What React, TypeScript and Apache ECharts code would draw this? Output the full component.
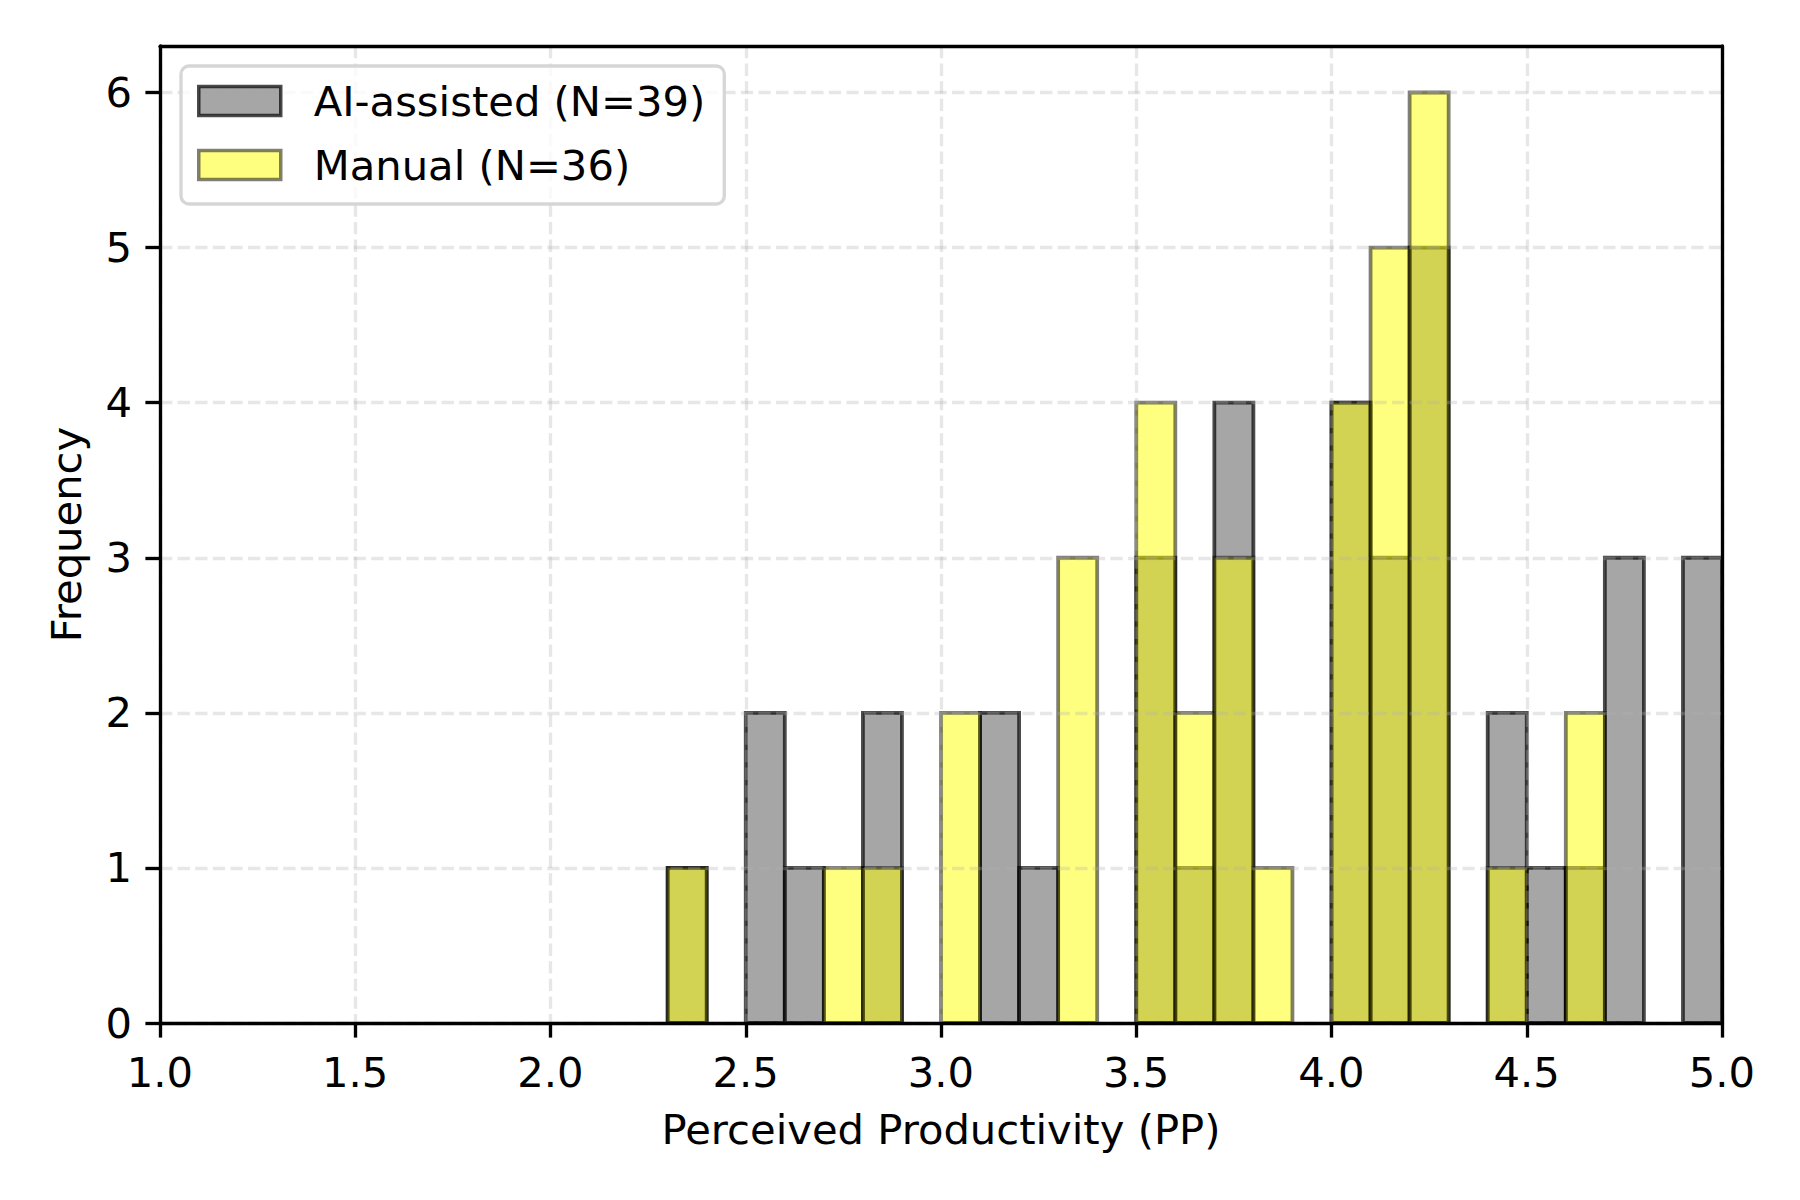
import React, { useEffect, useRef } from "react";
import * as echarts from "echarts";

// Histogram bins (lower edges), width 0.1
const binLower = [2.3, 2.4, 2.5, 2.6, 2.7, 2.8, 2.9, 3.0, 3.1, 3.2, 3.3, 3.4, 3.5, 3.6, 3.7, 3.8, 3.9, 4.0, 4.1, 4.2, 4.3, 4.4, 4.5, 4.6, 4.7, 4.8, 4.9];
const binWidth = 0.1;
const aiCounts = [1, 0, 2, 1, 0, 2, 0, 0, 2, 1, 0, 0, 3, 1, 4, 0, 0, 4, 3, 5, 0, 2, 1, 1, 3, 0, 3];
const manualCounts = [1, 0, 0, 0, 1, 1, 0, 2, 0, 0, 3, 0, 4, 2, 3, 1, 0, 4, 5, 6, 0, 1, 0, 2, 0, 0, 0];
const xTicks = [1.0, 1.5, 2.0, 2.5, 3.0, 3.5, 4.0, 4.5, 5.0];
const yTicks = [0, 1, 2, 3, 4, 5, 6];
const aiName = "AI-assisted (N=39)";
const manualName = "Manual (N=36)";

const FONT = "DejaVu Sans";
const FS = 41.7;
const LW = 3.33;

function makeData(counts: number[]) {
  const out: number[][] = [];
  binLower.forEach((b, i) => {
    if (counts[i] > 0) out.push([b, b + binWidth, counts[i]]);
  });
  return out;
}

function renderer(fill: string, stroke: string) {
  return (params: any, api: any) => {
    const x0 = api.value(0);
    const x1 = api.value(1);
    const y = api.value(2);
    const p0 = api.coord([x0, y]);
    const p1 = api.coord([x1, 0]);
    return {
      type: "rect",
      shape: { x: p0[0], y: p0[1], width: p1[0] - p0[0], height: p1[1] - p0[1] },
      style: { fill, stroke, lineWidth: 3.8 },
    };
  };
}

const AI_FILL = "rgba(128,128,128,0.7)";
const AI_EDGE = "rgba(0,0,0,0.7)";
const MAN_FILL = "rgba(255,255,0,0.5)";
const MAN_EDGE = "rgba(0,0,0,0.5)";

export default function App() {
  const ref = useRef<HTMLDivElement>(null);
  useEffect(() => {
    document.body.style.margin = "0";
    const chart = echarts.init(ref.current!, null, { renderer: "svg" });
    const gridLine = {
      show: true,
      lineStyle: { color: "rgba(176,176,176,0.3)", width: LW, type: [12.3, 5.3] as any },
    };
    chart.setOption({
      animation: false,
      backgroundColor: "#ffffff",
      textStyle: { fontFamily: FONT },
      grid: { left: 160, right: 78, top: 46, bottom: 177, containLabel: false },
      legend: {
        orient: "vertical",
        left: 181,
        top: 66,
        padding: [14, 19, 18, 16],
        itemWidth: 82,
        itemHeight: 29,
        itemGap: 22,
        backgroundColor: "rgba(255,255,255,0.8)",
        borderColor: "#d6d6d6",
        borderWidth: LW,
        borderRadius: 8,
        textStyle: { fontFamily: FONT, fontSize: FS, color: "#000", padding: [0, 0, 0, 28] },
        data: [
          { name: aiName, icon: "rect", itemStyle: { color: AI_FILL, borderColor: AI_EDGE, borderWidth: 3.5 } },
          { name: manualName, icon: "rect", itemStyle: { color: MAN_FILL, borderColor: MAN_EDGE, borderWidth: 3.5 } },
        ],
      },
      xAxis: [
        {
          type: "value",
          min: 1,
          max: 5,
          interval: 0.5,
          z: 3,
          name: "Perceived Productivity (PP)",
          nameLocation: "middle",
          nameGap: 85,
          nameTextStyle: { fontFamily: FONT, fontSize: FS, color: "#000" },
          axisLine: { show: true, onZero: false, lineStyle: { color: "#000", width: LW } },
          axisTick: { show: true, length: 14.6, lineStyle: { color: "#000", width: LW } },
          axisLabel: {
            show: true,
            margin: 28,
            fontFamily: FONT,
            fontSize: FS,
            color: "#000",
            showMinLabel: true,
            showMaxLabel: true,
            customValues: xTicks,
            formatter: (v: number) => v.toFixed(1),
          },
          splitLine: gridLine,
        },
        {
          type: "value",
          position: "top",
          min: 1,
          max: 5,
          z: 3,
          axisLine: { show: true, onZero: false, lineStyle: { color: "#000", width: LW } },
          axisTick: { show: false },
          axisLabel: { show: false },
          splitLine: { show: false },
        },
      ],
      yAxis: [
        {
          type: "value",
          min: 0,
          max: 6.3,
          interval: 1,
          z: 3,
          name: "Frequency",
          nameLocation: "middle",
          nameGap: 73,
          nameRotate: 90,
          nameTextStyle: { fontFamily: FONT, fontSize: FS, color: "#000" },
          axisLine: { show: true, onZero: false, lineStyle: { color: "#000", width: LW } },
          axisTick: { show: true, length: 14.6, lineStyle: { color: "#000", width: LW }, customValues: yTicks },
          axisLabel: {
            show: true,
            margin: 28,
            fontFamily: FONT,
            fontSize: FS,
            color: "#000",
            customValues: yTicks,
            formatter: (v: number) => String(v),
          },
          splitLine: gridLine,
        },
        {
          type: "value",
          position: "right",
          min: 0,
          max: 6.3,
          z: 3,
          axisLine: { show: true, onZero: false, lineStyle: { color: "#000", width: LW } },
          axisTick: { show: false },
          axisLabel: { show: false },
          splitLine: { show: false },
        },
      ],
      series: [
        {
          type: "custom",
          name: aiName,
          xAxisIndex: 0,
          yAxisIndex: 0,
          renderItem: renderer(AI_FILL, AI_EDGE),
          encode: { x: [0, 1], y: 2 },
          data: makeData(aiCounts),
          z: 2,
        },
        {
          type: "custom",
          name: manualName,
          xAxisIndex: 0,
          yAxisIndex: 0,
          renderItem: renderer(MAN_FILL, MAN_EDGE),
          encode: { x: [0, 1], y: 2 },
          data: makeData(manualCounts),
          z: 2,
        },
      ],
    });
    return () => chart.dispose();
  }, []);
  return <div ref={ref} style={{ width: 1800, height: 1200 }} />;
}
